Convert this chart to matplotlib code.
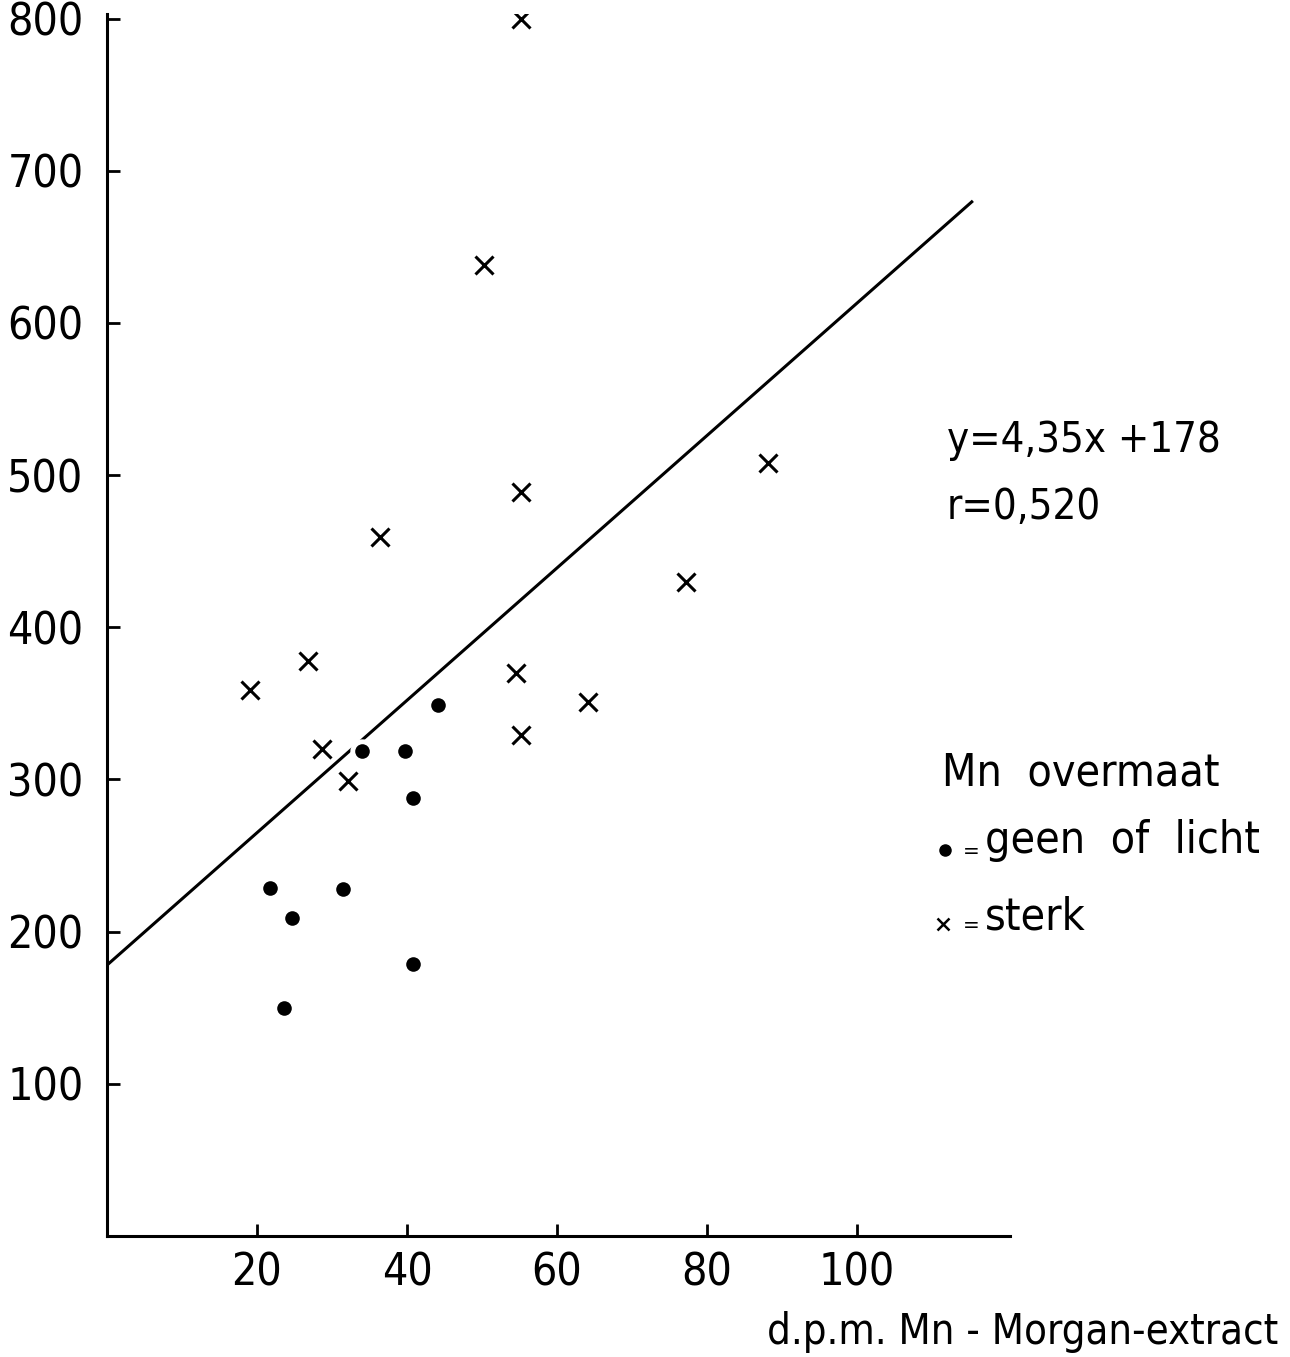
import matplotlib.pyplot as plt
import numpy as np

plt.rcParams['font.family'] = ['DejaVu Sans']
plt.rcParams['font.stretch'] = 'condensed'

# geen of licht (dots)
licht_x = [21.7, 24.7, 23.6, 31.5, 34.0, 39.7, 40.8, 40.8, 44.1]
licht_y = [229, 209, 150, 228, 319, 319, 288, 179, 349]

# sterk (crosses)
sterk_x = [19.1, 26.8, 28.6, 32.1, 36.4, 50.3, 55.2, 55.2, 54.5, 55.2, 64.1, 77.2, 88.1]
sterk_y = [359, 378, 320, 299, 459, 638, 800, 489, 370, 329, 351, 430, 508]

# regression line y = 4.35x + 178
slope, intercept = 4.35, 178
line_x = np.array([0, 115.3])

x_ticks = [20, 40, 60, 80, 100]
y_ticks = [100, 200, 300, 400, 500, 600, 700, 800]

fig = plt.figure(figsize=(12.9, 13.57), dpi=100)
W, H = 1290, 1357
ax = fig.add_axes([107 / W, 1 - 1236 / H, (1010 - 107) / W, (1236 - 14) / H])

ax.plot(line_x, slope * line_x + intercept, color='black', lw=2.2, zorder=2)
ax.plot(licht_x, licht_y, 'o', color='black', ms=10.5, mec='white', mew=7, zorder=3)
ax.plot(licht_x, licht_y, 'o', color='black', ms=10.5, mew=0, zorder=4)
ax.plot(sterk_x, sterk_y, 'x', color='black', ms=12.5, mew=2.2, zorder=3)

ax.set_xlim(0, 120.4)
ax.set_ylim(0, 803)
ax.set_xticks(x_ticks)
ax.set_yticks(y_ticks)
for s in ['top', 'right']:
    ax.spines[s].set_visible(False)
for s in ['left', 'bottom']:
    ax.spines[s].set_linewidth(2.2)
ax.tick_params(direction='in', length=9, width=2, labelsize=32)
ax.tick_params(axis='y', pad=17)
ax.tick_params(axis='x', pad=11)

# equation text
fig.text(947 / W, 1 - 440 / H, 'y=4,35x +178', fontsize=30, va='center', ha='left')
fig.text(947 / W, 1 - 507 / H, 'r=0,520', fontsize=30, va='center', ha='left')

# legend
fig.text(942 / W, 1 - 773 / H, 'Mn  overmaat', fontsize=32, va='center', ha='left')
fig.text(963 / W, 1 - 852 / H, '=', fontsize=16, va='center', ha='left')
fig.text(985 / W, 1 - 840 / H, 'geen  of  licht', fontsize=32, va='center', ha='left')
fig.text(963 / W, 1 - 926 / H, '=', fontsize=16, va='center', ha='left')
fig.text(985 / W, 1 - 917 / H, 'sterk', fontsize=32, va='center', ha='left')
fig.lines.append(plt.Line2D([945 / W], [1 - 850 / H], marker='o', color='black', ms=8,
                            transform=fig.transFigure))
fig.lines.append(plt.Line2D([943 / W], [1 - 924 / H], marker='x', color='black', ms=9,
                            mew=1.8, transform=fig.transFigure))

# x axis label
fig.text(1278 / W, 1 - 1332 / H, 'd.p.m. Mn - Morgan-extract', fontsize=30,
         va='center', ha='right')

fig.savefig('out.png', dpi=100)
